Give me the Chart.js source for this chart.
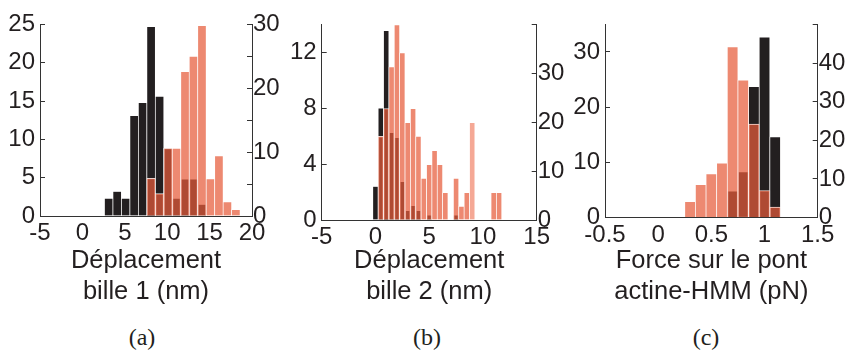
<!DOCTYPE html>
<html>
<head>
<meta charset="utf-8">
<script src="https://cdn.jsdelivr.net/npm/chart.js@4.4.1/dist/chart.umd.min.js"></script>
<style>
   body { margin: 0; background: #fff; width: 850px; height: 355px; position: relative; overflow: hidden; }
   .panneau { position: absolute; top: 0; }
   .lettre { position: absolute; top: 323px; font: 24px 'Liberation Serif', 'Times New Roman', serif; color: #231f20; transform: translateX(-50%); line-height: 28px; }
</style>
</head>
<body>
<canvas class="panneau" id="histo_a" width="285" height="310" style="left:0px"></canvas>
<canvas class="panneau" id="histo_b" width="285" height="310" style="left:285px"></canvas>
<canvas class="panneau" id="histo_c" width="280" height="310" style="left:570px"></canvas>
<div class="lettre" style="left:142px">(a)</div>
<div class="lettre" style="left:427px">(b)</div>
<div class="lettre" style="left:706px">(c)</div>
<script>
// (a) deplacement bille 1 (nm)
const binsA = [3.1, 4.1, 5.1, 6.1, 7.1, 8.1, 9.1, 10.1, 11.1, 12.1, 13.1, 14.1, 15.1, 16.1, 17.1, 18.1];
const noirA = [2.3, 3.2, 2.3, 13.1, 14.8, 24.7, 15.6, 8.85, 2.3, 4.8, 4.8, 1.5, null, null, null, null];
const saumonA = [null, null, null, null, null, 5.9, 3.5, 10.6, 10.6, 22.6, 25.0, 29.8, 5.8, 9.4, 2.2, 1.0];

// (b) deplacement bille 2 (nm)
const binsB = [0, 0.5, 1, 1.5, 2, 2.5, 3, 3.5, 4, 4.5, 5, 5.5, 6, 6.5, 7, 7.5, 8, 8.5, 9, 9.5, 10, 10.5, 11, 11.5];
const noirB = [2.4, 8.0, 13.55, 6.25, 5.9, 2.75, 0.67, 1.03, 0.67, null, 0.34, null, null, null, null, 0.34, null, null, null, null, null, null, null, null];
const saumonB = [null, 17.1, 22.8, 31.3, 39.9, 34.2, 19.9, 22.8, 17.1, 8.5, 11.3, 14.2, 11.3, 5.6, null, 8.5, 2.8, 5.6, 19.9, null, null, null, 5.6, 5.6];
const binPaleB = 9;

// (c) force sur le pont actine-HMM (pN)
const binsC = [0.3, 0.4, 0.5, 0.6, 0.7, 0.8, 0.9, 1.0, 1.1];
const noirC = [null, null, null, null, 4.8, 8.25, 23.7, 32.7, 14.6];
const saumonC = [4.1, 8.5, 11.3, 14.1, 44.2, 35.6, 24.2, 7.0, 2.7];

const corTexto = '#231f20';
const corEixo = '#333333';
const fonteTicks = { family: "'Liberation Sans Narrow', 'Liberation Sans', Arial, sans-serif", size: 24 };
const fonteTitulo = { family: "'Liberation Sans', Arial, sans-serif", size: 25.5, lineHeight: 1.22 };

function pares(bins, valores) {
   return bins.map((x, i) => ({ x: x, y: valores[i] }));
}

function histograma(id, cfg) {
   var ctx = document.getElementById(id);
   new Chart(ctx, {
      type: 'bar',
      data: {
         datasets: [{
            label: 'saumon',
            data: pares(cfg.bins, cfg.saumon),
            yAxisID: 'y1',
            order: 1,
            backgroundColor: function (c) {
               if (cfg.pale !== undefined && c.raw && c.raw.x === cfg.pale) return 'rgba(235,88,52,0.52)';
               return 'rgba(230,92,58,0.72)';
            },
            borderColor: 'rgba(255,255,255,0.9)',
            borderWidth: 0.7,
            grouped: false,
            barPercentage: 1,
            categoryPercentage: 1
         }, {
            label: 'noir',
            data: pares(cfg.bins, cfg.noir),
            yAxisID: 'y',
            order: 2,
            backgroundColor: '#231f20',
            borderColor: 'rgba(255,255,255,0.95)',
            borderWidth: 0.7,
            grouped: false,
            barPercentage: 1,
            categoryPercentage: 1
         }]
      },
      options: {
         responsive: false,
         animation: false,
         layout: { padding: { top: cfg.top, left: 0, right: 0, bottom: 0 } },
         plugins: { legend: { display: false }, tooltip: { enabled: false } },
         scales: {
            x: {
               type: 'linear',
               position: 'bottom',
               min: cfg.xmin,
               max: cfg.xmax,
               offset: false,
               grid: { display: false },
               border: { display: true, color: corEixo, width: 1 },
               ticks: {
                  stepSize: cfg.xstep, autoSkip: false, maxRotation: 0, padding: -5, color: corTexto, font: fonteTicks,
                  callback: v => String(Math.round(v * 10) / 10)
               },
               title: { display: true, text: cfg.titre, color: corTexto, font: fonteTitulo, padding: { top: 0, bottom: 2 } },
               afterFit: function (s) { s.height = cfg.xh; }
            },
            y: {
               position: 'left',
               min: 0,
               max: cfg.ymax,
               grid: { drawOnChartArea: false, drawTicks: true, tickLength: -5, color: corEixo },
               border: { display: true, color: corEixo, width: 1 },
               ticks: { stepSize: cfg.ystep, padding: 10, color: corTexto, font: fonteTicks, callback: cfg.ylab },
               afterFit: function (s) { s.width = cfg.lw; }
            },
            y1: {
               position: 'right',
               min: 0,
               max: cfg.y1max,
               grid: { drawOnChartArea: false, drawTicks: true, tickLength: -5, color: corEixo },
               border: { display: true, color: corEixo, width: 1 },
               ticks: { stepSize: cfg.y1step, padding: 6, color: corTexto, font: fonteTicks, callback: cfg.y1lab },
               afterFit: function (s) { s.width = cfg.rw; }
            }
         }
      }
   });
}

histograma('histo_a', {
   bins: binsA, noir: noirA, saumon: saumonA,
   xmin: -5, xmax: 20, xstep: 5,
   ymax: 25, ystep: 5, ylab: v => v,
   y1max: 30, y1step: 5, y1lab: v => (v % 10 === 0 ? v : ''),
   titre: ['Déplacement', 'bille 1 (nm)'],
   top: 16, xh: 94, lw: 40, rw: 33
});

histograma('histo_b', {
   bins: binsB, noir: noirB, saumon: saumonB, pale: binPaleB,
   xmin: -5, xmax: 15, xstep: 5,
   ymax: 14, ystep: 2, ylab: v => (v % 4 === 0 && v < 14 ? v : ''),
   y1max: 40, y1step: 10, y1lab: v => (v < 40 ? v : ''),
   titre: ['Déplacement', 'bille 2 (nm)'],
   top: 17, xh: 90, lw: 36.7, rw: 33.3
});

histograma('histo_c', {
   bins: binsC, noir: noirC, saumon: saumonC,
   xmin: -0.5, xmax: 1.5, xstep: 0.5,
   ymax: 35, ystep: 5, ylab: v => (v % 10 === 0 ? v : ''),
   y1max: 50, y1step: 10, y1lab: v => (v < 50 ? v : ''),
   titre: ['Force sur le pont', 'actine-HMM (pN)'],
   top: 16, xh: 92.5, lw: 35, rw: 32.3
});
</script>
</body>
</html>
